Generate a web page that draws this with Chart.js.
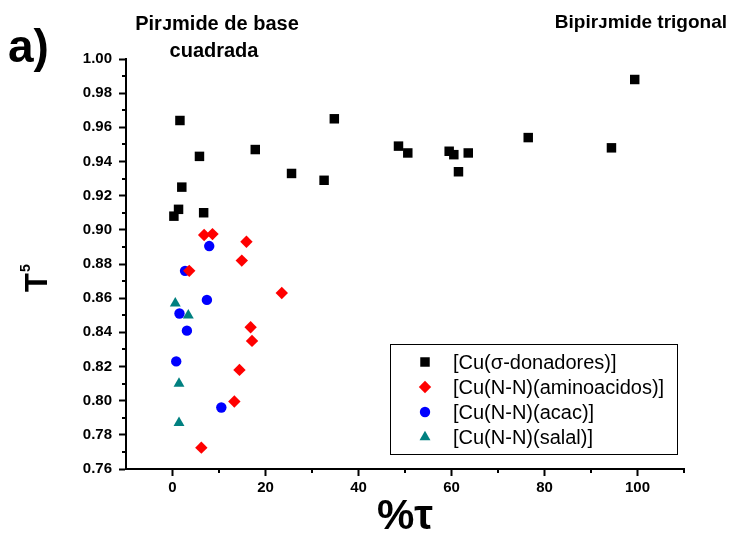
<!DOCTYPE html>
<html>
<head>
<meta charset="utf-8">
<script src="https://cdn.jsdelivr.net/npm/chart.js@4.4.1/dist/chart.umd.min.js"></script>
<style>
  html, body { margin: 0; padding: 0; background: #ffffff; }
  canvas { display: block; }
</style>
</head>
<body>
<canvas id="chart" width="731" height="538"></canvas>
<script>
// values
const sigmaX = [0.3, 1.3, 1.6, 2.0, 5.8, 6.7, 17.8, 25.6, 32.6, 34.8, 48.6, 50.6, 59.5, 60.5, 63.6, 61.5, 76.5, 94.4, 99.4];
const sigmaY = [0.908, 0.912, 0.964, 0.925, 0.943, 0.910, 0.947, 0.933, 0.929, 0.965, 0.949, 0.945, 0.946, 0.944, 0.945, 0.934, 0.954, 0.948, 0.988];

const aminoX = [6.8, 8.6, 15.9, 14.9, 3.6, 23.5, 16.8, 17.1, 14.4, 13.3, 6.2];
const aminoY = [0.897, 0.8975, 0.893, 0.882, 0.876, 0.863, 0.843, 0.835, 0.818, 0.7995, 0.7725];

const acacX = [7.9, 2.7, 7.4, 1.5, 3.1, 0.8, 10.5];
const acacY = [0.8905, 0.876, 0.859, 0.851, 0.841, 0.823, 0.796];

const salalX = [0.6, 3.4, 1.4, 1.4];
const salalY = [0.857, 0.850, 0.810, 0.787];

const seriesLabels = ["[Cu(\u03C3-donadores)]", "[Cu(N-N)(aminoacidos)]", "[Cu(N-N)(acac)]", "[Cu(N-N)(salal)]"];

const xTicks = [0, 20, 40, 60, 80, 100];
const xMinorTicks = [10, 30, 50, 70, 90, 110];
const yTicks = [0.76, 0.78, 0.80, 0.82, 0.84, 0.86, 0.88, 0.90, 0.92, 0.94, 0.96, 0.98, 1.00];
const yMinorTicks = [0.77, 0.79, 0.81, 0.83, 0.85, 0.87, 0.89, 0.91, 0.93, 0.95, 0.97, 0.99];

const FONT = '"Liberation Sans", Arial, Helvetica, sans-serif';

function toPoints(xs, ys) {
  return xs.map((x, i) => ({ x: x, y: ys[i] }));
}

// short minor ticks, header texts, y title and the legend box
const extras = {
  id: "extras",
  afterDraw(chart) {
    const ctx = chart.ctx;
    const xs = chart.scales.x;
    const ys = chart.scales.y;
    const area = chart.chartArea;

    ctx.save();
    ctx.strokeStyle = "#000";
    ctx.lineWidth = 2;
    ctx.beginPath();
    xMinorTicks.forEach(v => {
      const px = Math.round(xs.getPixelForValue(v));
      ctx.moveTo(px, area.bottom);
      ctx.lineTo(px, area.bottom + 4);
    });
    yMinorTicks.forEach(v => {
      const py = Math.round(ys.getPixelForValue(v));
      ctx.moveTo(area.left, py);
      ctx.lineTo(area.left - 4, py);
    });
    ctx.stroke();

    ctx.fillStyle = "#000";
    ctx.textBaseline = "alphabetic";

    ctx.font = "bold 46px " + FONT;
    ctx.textAlign = "left";
    ctx.fillText("a)", 8, 62);

    ctx.font = "bold 20px " + FONT;
    ctx.textAlign = "center";
    ctx.fillText("Pir\u1D0Amide de base", 217, 30);
    ctx.fillText("cuadrada", 214, 57);

    ctx.font = "bold 19px " + FONT;
    ctx.textAlign = "right";
    ctx.fillText("Bipir\u1D0Amide trigonal", 727, 28);

    // y axis title T^5
    ctx.save();
    ctx.translate(47, 292);
    ctx.rotate(-Math.PI / 2);
    ctx.textAlign = "left";
    ctx.font = "bold 31px " + FONT;
    ctx.fillText("T", 0, 0);
    const tw = ctx.measureText("T").width;
    ctx.font = "bold 14px " + FONT;
    ctx.fillText("5", tw + 1, -17);
    ctx.restore();

    // legend
    const boxL = 390, boxT = 344, boxW = 287, boxH = 110;
    ctx.lineWidth = 1;
    ctx.strokeRect(boxL + 0.5, boxT + 0.5, boxW, boxH);
    ctx.font = "20px " + FONT;
    ctx.textAlign = "left";
    ctx.textBaseline = "middle";
    chart.data.datasets.forEach((ds, i) => {
      const cy = 362 + i * 25;
      ctx.fillStyle = ds.backgroundColor;
      Chart.helpers.drawPoint(ctx, {
        pointStyle: ds.pointStyle,
        radius: ds.pointRadius,
        rotation: 0,
        borderWidth: 0
      }, 425, cy);
      ctx.fillStyle = "#000";
      ctx.fillText(ds.label, 453, cy + 1);
    });
    ctx.restore();
  }
};

const ctx = document.getElementById("chart").getContext("2d");

new Chart(ctx, {
  type: "scatter",
  data: {
    datasets: [
      {
        label: seriesLabels[0],
        data: toPoints(sigmaX, sigmaY),
        pointStyle: "rect",
        pointRadius: 6.7,
        backgroundColor: "#000000",
        borderWidth: 0
      },
      {
        label: seriesLabels[1],
        data: toPoints(aminoX, aminoY),
        pointStyle: "rectRot",
        pointRadius: 6.2,
        backgroundColor: "#ff0000",
        borderWidth: 0
      },
      {
        label: seriesLabels[2],
        data: toPoints(acacX, acacY),
        pointStyle: "circle",
        pointRadius: 5.2,
        backgroundColor: "#0000ff",
        borderWidth: 0
      },
      {
        label: seriesLabels[3],
        data: toPoints(salalX, salalY),
        pointStyle: "triangle",
        pointRadius: 6.3,
        backgroundColor: "#008080",
        borderWidth: 0
      }
    ]
  },
  options: {
    responsive: false,
    animation: false,
    layout: {
      padding: { top: 59, right: 47, left: 0, bottom: 0 }
    },
    plugins: {
      legend: { display: false },
      tooltip: { enabled: false }
    },
    scales: {
      x: {
        type: "linear",
        min: -10,
        max: 110,
        afterBuildTicks: (scale) => {
          scale.ticks = xTicks.map(v => ({ value: v }));
        },
        afterFit: (scale) => {
          scale.height = 69;
        },
        ticks: {
          color: "#000",
          padding: 3,
          font: { family: FONT, size: 15, weight: "bold" }
        },
        grid: {
          drawOnChartArea: false,
          drawTicks: true,
          tickLength: 7,
          tickWidth: 2,
          tickColor: "#000"
        },
        border: { display: true, color: "#000", width: 2 },
        title: {
          display: true,
          text: "%\u03C4",
          color: "#000",
          padding: 0,
          font: { family: FONT, size: 42, weight: "bold", lineHeight: 1 }
        }
      },
      y: {
        type: "linear",
        min: 0.76,
        max: 1.0,
        afterBuildTicks: (scale) => {
          scale.ticks = yTicks.map(v => ({ value: v }));
        },
        afterFit: (scale) => {
          scale.width = 126;
        },
        ticks: {
          color: "#000",
          padding: 7,
          font: { family: FONT, size: 15, weight: "bold" },
          callback: (v) => Number(v).toFixed(2)
        },
        grid: {
          drawOnChartArea: false,
          drawTicks: true,
          tickLength: 7,
          tickWidth: 2,
          tickColor: "#000"
        },
        border: { display: true, color: "#000", width: 2 }
      }
    }
  },
  plugins: [extras]
});
</script>
</body>
</html>
